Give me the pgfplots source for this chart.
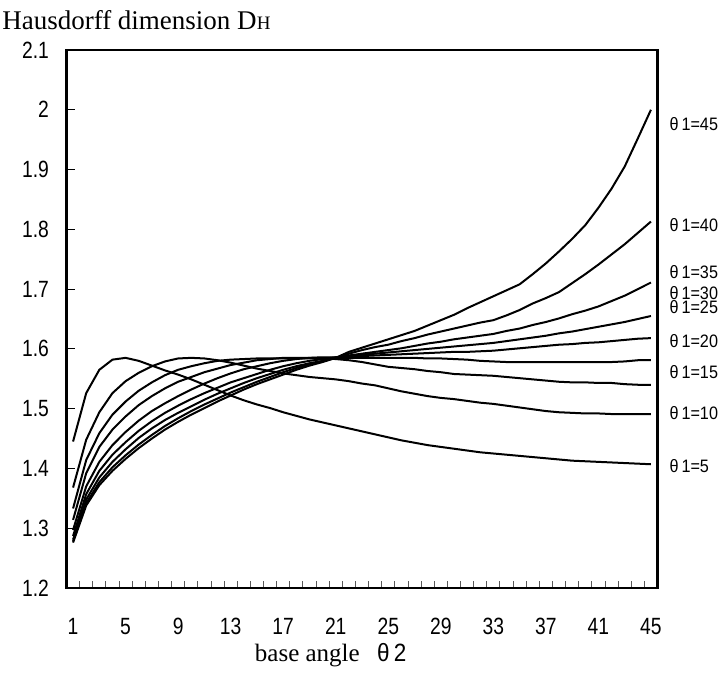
\documentclass[border=0pt]{standalone}
\usepackage{pgfplots}
\pgfplotsset{compat=1.18}
\usepackage{pgfplotstable}
\usepackage{fontspec}
\setmainfont{Liberation Serif}
\newfontfamily\tickfont[FakeStretch=0.82]{Liberation Sans}
\newfontfamily\lblfont[FakeStretch=0.9]{Liberation Sans}

\pgfplotstableread{
x c5 c10 c15 c20 c25 c30 c35 c40 c45
1 1.445 1.368 1.333 1.314 1.297 1.287 1.281 1.278 1.276
2 1.526 1.448 1.414 1.392 1.370 1.357 1.348 1.342 1.338
3 1.565 1.494 1.459 1.436 1.411 1.396 1.385 1.377 1.372
4 1.582 1.526 1.490 1.465 1.439 1.423 1.411 1.402 1.396
5 1.585 1.546 1.512 1.487 1.461 1.444 1.432 1.422 1.416
6 1.580 1.560 1.530 1.506 1.480 1.463 1.451 1.440 1.434
7 1.572 1.571 1.544 1.521 1.496 1.479 1.467 1.456 1.450
8 1.564 1.579 1.556 1.534 1.509 1.493 1.481 1.471 1.465
9 1.557 1.584 1.565 1.545 1.521 1.505 1.493 1.484 1.478
10 1.549 1.585 1.571 1.553 1.532 1.516 1.504 1.496 1.490
11 1.540 1.584 1.576 1.561 1.542 1.526 1.515 1.507 1.501
12 1.531 1.581 1.580 1.567 1.551 1.535 1.525 1.517 1.512
13 1.522 1.577 1.582 1.573 1.559 1.544 1.534 1.527 1.522
14 1.514 1.572 1.583 1.577 1.566 1.551 1.543 1.536 1.532
15 1.507 1.567 1.584 1.581 1.571 1.558 1.551 1.545 1.541
16 1.501 1.563 1.584 1.583 1.576 1.565 1.558 1.553 1.549
17 1.494 1.559 1.584 1.585 1.580 1.571 1.565 1.561 1.557
18 1.488 1.556 1.584 1.585 1.583 1.576 1.571 1.568 1.565
19 1.482 1.553 1.584 1.585 1.585 1.580 1.576 1.574 1.572
20 1.477 1.551 1.584 1.585 1.586 1.583 1.580 1.579 1.578
21 1.472 1.549 1.583 1.585 1.586 1.586 1.585 1.585 1.585
22 1.467 1.546 1.581 1.585 1.587 1.588 1.589 1.592 1.595
23 1.462 1.542 1.578 1.585 1.588 1.590 1.592 1.598 1.602
24 1.457 1.539 1.574 1.585 1.589 1.592 1.595 1.603 1.609
25 1.452 1.534 1.570 1.585 1.590 1.594 1.598 1.607 1.616
26 1.447 1.529 1.568 1.585 1.591 1.596 1.601 1.613 1.623
27 1.443 1.525 1.566 1.585 1.592 1.598 1.605 1.618 1.630
28 1.439 1.521 1.563 1.584 1.593 1.600 1.609 1.624 1.639
29 1.436 1.518 1.561 1.584 1.594 1.602 1.612 1.629 1.648
30 1.433 1.516 1.558 1.583 1.595 1.604 1.616 1.634 1.657
31 1.430 1.513 1.557 1.582 1.595 1.606 1.619 1.639 1.668
32 1.427 1.510 1.556 1.580 1.596 1.608 1.622 1.644 1.678
33 1.425 1.508 1.555 1.579 1.597 1.610 1.625 1.648 1.688
34 1.423 1.505 1.553 1.578 1.599 1.613 1.630 1.656 1.698
35 1.421 1.502 1.551 1.578 1.601 1.616 1.634 1.665 1.708
36 1.419 1.499 1.549 1.578 1.603 1.619 1.640 1.676 1.725
37 1.417 1.496 1.547 1.578 1.605 1.622 1.645 1.685 1.743
38 1.415 1.494 1.545 1.578 1.607 1.626 1.651 1.695 1.763
39 1.413 1.493 1.544 1.578 1.608 1.629 1.658 1.710 1.784
40 1.412 1.492 1.544 1.578 1.610 1.633 1.664 1.725 1.807
41 1.411 1.492 1.543 1.578 1.611 1.637 1.671 1.741 1.836
42 1.410 1.491 1.543 1.578 1.613 1.641 1.680 1.758 1.868
43 1.409 1.491 1.541 1.579 1.615 1.645 1.689 1.775 1.905
44 1.408 1.491 1.540 1.581 1.617 1.650 1.700 1.794 1.952
45 1.407 1.491 1.540 1.581 1.618 1.655 1.711 1.813 2.000
}\datatable

\begin{document}
\begin{tikzpicture}
\begin{axis}[
  scale only axis, width=591pt, height=538pt,
  xmin=0.5, xmax=45.5, ymin=1.2, ymax=2.1,
  clip=false,
  axis line style={line width=2.2pt},
  xtick={1,5,9,13,17,21,25,29,33,37,41,45},
  xticklabels={1,5,9,13,17,21,25,29,33,37,41,45},
  major x tick style={draw=none},
  minor xtick={1.5,2.5,...,44.5},
  minor x tick style={draw=black!65, line width=0.9pt},
  minor tick length=7pt,
  ytick={1.2,1.3,1.4,1.5,1.6,1.7,1.8,1.9,2.0,2.1},
  yticklabels={1.2,1.3,1.4,1.5,1.6,1.7,1.8,1.9,2,2.1},
  major y tick style={line width=1.2pt, black},
  major tick length=8pt,
  tick align=inside,
  xtick pos=bottom, ytick pos=left,
  tick label style={font=\tickfont\fontsize{23.5}{26}\selectfont},
  xticklabel style={yshift=-27pt},
  yticklabel style={xshift=-14pt},
]
\addplot[black, solid, line width=2pt, mark=none] table[x=x,y=c5]{\datatable};
\addplot[black, solid, line width=2pt, mark=none] table[x=x,y=c10]{\datatable};
\addplot[black, solid, line width=2pt, mark=none] table[x=x,y=c15]{\datatable};
\addplot[black, solid, line width=2pt, mark=none] table[x=x,y=c20]{\datatable};
\addplot[black, solid, line width=2pt, mark=none] table[x=x,y=c25]{\datatable};
\addplot[black, solid, line width=2pt, mark=none] table[x=x,y=c30]{\datatable};
\addplot[black, solid, line width=2pt, mark=none] table[x=x,y=c35]{\datatable};
\addplot[black, solid, line width=2pt, mark=none] table[x=x,y=c40]{\datatable};
\addplot[black, solid, line width=2pt, mark=none] table[x=x,y=c45]{\datatable};

\begin{scope}[every node/.style={anchor=west, inner sep=0pt, font=\lblfont\fontsize{18}{20}\selectfont}]
\node at (axis cs:46.40,1.9756) {θ\,1=45};
\node at (axis cs:46.40,1.8064) {θ\,1=40};
\node at (axis cs:46.40,1.7293) {θ\,1=35};
\node at (axis cs:46.40,1.6930) {θ\,1=30};
\node at (axis cs:46.40,1.6700) {θ\,1=25};
\node at (axis cs:46.40,1.6137) {θ\,1=20};
\node at (axis cs:46.40,1.5618) {θ\,1=15};
\node at (axis cs:46.40,1.4931) {θ\,1=10};
\node at (axis cs:46.40,1.4044) {θ\,1=5};
\end{scope}

\node[anchor=west, inner sep=0pt, font=\fontsize{27}{29}\selectfont] at (rel axis cs:-0.109,1.0558) {Hausdorff dimension D{\fontsize{19}{20}\selectfont H}};
\node[anchor=center, inner sep=0pt, font=\fontsize{25}{28}\selectfont] at (rel axis cs:0.447,-0.1245) {base angle\hspace{0.7em}{\lblfont\fontsize{25}{27}\selectfont θ\,2}};
\end{axis}
\pgfresetboundingbox
\path ([xshift=-66.5pt,yshift=-87pt]current axis.south west) rectangle ([xshift=69.5pt,yshift=50pt]current axis.north east);
\end{tikzpicture}
\end{document}
